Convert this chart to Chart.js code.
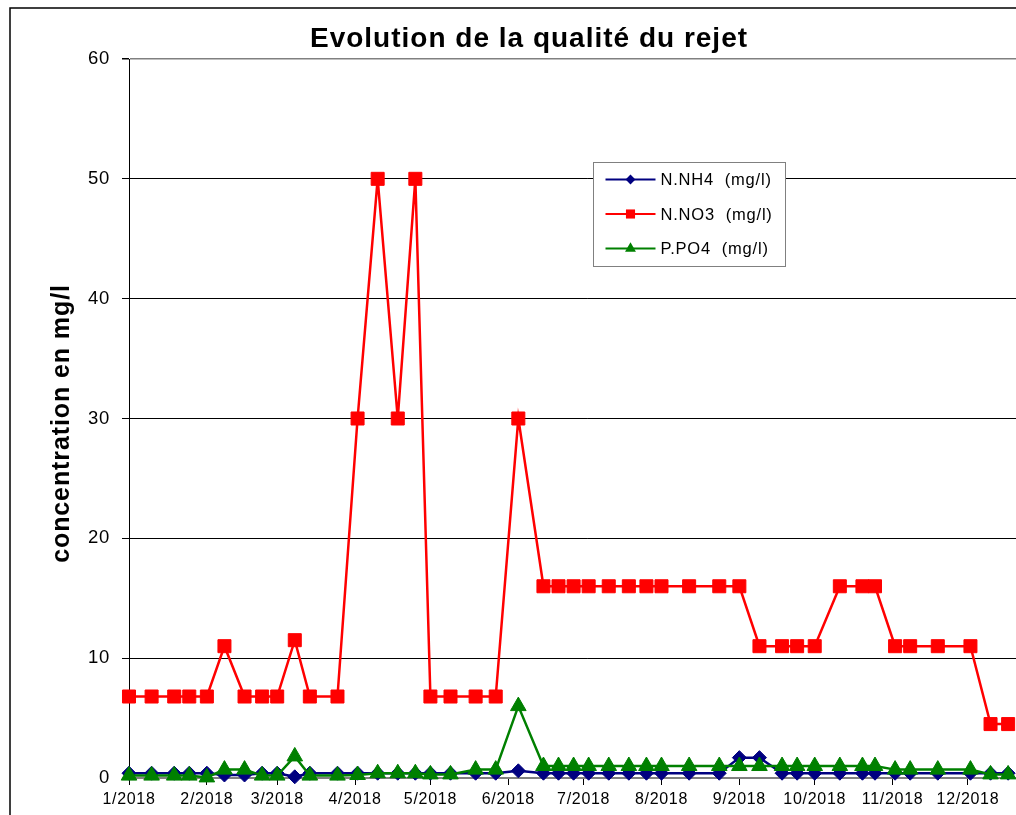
<!DOCTYPE html>
<html>
<head>
<meta charset="utf-8">
<title>Evolution de la qualité du rejet</title>
<script src="https://cdn.jsdelivr.net/npm/chart.js@4.4.1/dist/chart.umd.min.js"></script>
<style>
    html, body { margin: 0; padding: 0; background: #fff; overflow: hidden; }
    #wrap { width: 1016px; height: 815px; overflow: hidden; }
    canvas { display: block; }
</style>
</head>
<body>
<div id="wrap"><canvas id="rejetChart" width="1056" height="815"></canvas></div>
<script>
/* ========================================================
   DATA (day of year 2018 for each sample)
======================================================== */
const sampleDays = [0, 9, 18, 24, 31, 38, 46, 53, 59, 66, 72, 83, 91, 99, 107, 114,
    120, 128, 138, 146, 155, 165, 171, 177, 183, 191, 199, 206, 212, 223, 235, 243,
    251, 260, 266, 273, 283, 292, 297, 305, 311, 322, 335, 343, 350];

const nh4 = [0.4, 0.4, 0.4, 0.4, 0.4, 0.25, 0.25, 0.4, 0.4, 0.1, 0.4, 0.4, 0.4, 0.4, 0.4, 0.4,
    0.4, 0.4, 0.4, 0.4, 0.6, 0.4, 0.4, 0.4, 0.4, 0.4, 0.4, 0.4, 0.4, 0.4, 0.4, 1.7,
    1.7, 0.4, 0.4, 0.4, 0.4, 0.4, 0.4, 0.4, 0.4, 0.4, 0.4, 0.4, 0.4];

const no3 = [6.8, 6.8, 6.8, 6.8, 6.8, 11, 6.8, 6.8, 6.8, 11.5, 6.8, 6.8, 30, 50, 30, 50,
    6.8, 6.8, 6.8, 6.8, 30, 16, 16, 16, 16, 16, 16, 16, 16, 16, 16, 16,
    11, 11, 11, 11, 16, 16, 16, 11, 11, 11, 11, 4.5, 4.5];

const po4 = [0.2, 0.2, 0.2, 0.2, 0.05, 0.7, 0.7, 0.2, 0.2, 1.8, 0.2, 0.2, 0.25, 0.4, 0.4, 0.4,
    0.3, 0.3, 0.7, 0.7, 6.0, 1.0, 1.0, 1.0, 1.0, 1.0, 1.0, 1.0, 1.0, 1.0, 1.0, 1.0,
    1.0, 1.0, 1.0, 1.0, 1.0, 1.0, 1.0, 0.7, 0.7, 0.7, 0.7, 0.3, 0.3];

const monthStartDays = [0, 31, 59, 90, 120, 151, 181, 212, 243, 273, 304, 334];
const monthLabels = ['1/2018', '2/2018', '3/2018', '4/2018', '5/2018', '6/2018',
    '7/2018', '8/2018', '9/2018', '10/2018', '11/2018', '12/2018'];

const yMin = 0;
const yMax = 60;
const yStep = 10;

const seriesNames = ['N.NH4  (mg/l)', 'N.NO3  (mg/l)', 'P.PO4  (mg/l)'];
const chartTitle = 'Evolution de la qualité du rejet';
const yTitle = 'concentration en mg/l';

/* ========================================================
   HELPERS
======================================================== */
const FONT = "'Liberation Sans', Arial, sans-serif";

function toPoints(values) {
    return sampleDays.map((d, i) => ({ x: d, y: values[i] }));
}

function drawMarker(ctx, style, x, y, r, color) {
    ctx.fillStyle = color;
    ctx.beginPath();
    if (style === 'rectRot') {
        ctx.moveTo(x - r, y);
        ctx.lineTo(x, y - r);
        ctx.lineTo(x + r, y);
        ctx.lineTo(x, y + r);
    } else if (style === 'rect') {
        const s = Math.SQRT1_2 * r;
        ctx.rect(x - s, y - s, 2 * s, 2 * s);
    } else {
        ctx.moveTo(x, y - r);
        ctx.lineTo(x + r * 0.866, y + r * 0.5);
        ctx.lineTo(x - r * 0.866, y + r * 0.5);
    }
    ctx.closePath();
    ctx.fill();
}

/* ========================================================
   DECOR PLUGIN (frame, titles, legend)
======================================================== */
const decorPlugin = {
    id: 'decor',
    beforeDraw(chart) {
        const ctx = chart.ctx;
        ctx.save();
        ctx.fillStyle = '#fff';
        ctx.fillRect(0, 0, chart.width, chart.height);
        ctx.strokeStyle = '#000';
        ctx.lineWidth = 1.5;
        ctx.strokeRect(10, 8, chart.width + 100, chart.height + 100);
        ctx.restore();
        ctx.letterSpacing = '0.7px';
    },
    afterDraw(chart) {
        const ctx  = chart.ctx;
        const area = chart.chartArea;

        // main title
        ctx.save();
        ctx.letterSpacing = '1px';
        ctx.fillStyle = '#000';
        ctx.font = 'bold 28px ' + FONT;
        ctx.textAlign = 'center';
        ctx.textBaseline = 'alphabetic';
        ctx.fillText(chartTitle, 529, 47);
        ctx.restore();

        // y axis title
        ctx.save();
        ctx.letterSpacing = '0.9px';
        ctx.fillStyle = '#000';
        ctx.font = 'bold 25px ' + FONT;
        ctx.translate(62, (area.top + area.bottom) / 2 + 5);
        ctx.rotate(-Math.PI / 2);
        ctx.textAlign = 'center';
        ctx.textBaseline = 'middle';
        ctx.fillText(yTitle, 0, 0);
        ctx.restore();

        // legend box
        const bx = area.left + 464.5, by = area.top + 103.5, bw = 192, bh = 104;
        ctx.save();
        ctx.fillStyle = '#fff';
        ctx.fillRect(bx, by, bw, bh);
        ctx.strokeStyle = '#808080';
        ctx.lineWidth = 1;
        ctx.strokeRect(bx, by, bw, bh);

        ctx.letterSpacing = '0.8px';
        ctx.font = '16.5px ' + FONT;
        ctx.textBaseline = 'middle';
        ctx.textAlign = 'left';
        chart.data.datasets.forEach((ds, i) => {
            const y = by + 17 + i * 34.5;
            ctx.strokeStyle = ds.borderColor;
            ctx.lineWidth = 2;
            ctx.beginPath();
            ctx.moveTo(bx + 12, y);
            ctx.lineTo(bx + 62, y);
            ctx.stroke();
            drawMarker(ctx, ds.pointStyle, bx + 37, y, ds.pointRadius * 0.7, ds.borderColor);
            ctx.fillStyle = '#000';
            ctx.fillText(ds.label, bx + 67, y + 1);
        });
        ctx.restore();
    }
};

/* ========================================================
   CHART
======================================================== */
const ctx = document.getElementById('rejetChart').getContext('2d');
const rejetChart = new Chart(ctx, {
    type: 'line',
    data: {
        datasets: [{
            label: seriesNames[0],
            data: toPoints(nh4),
            borderColor: '#000080',
            backgroundColor: '#000080',
            borderWidth: 2.5,
            pointStyle: 'rectRot',
            pointRadius: 7,
            pointBorderWidth: 1,
            tension: 0,
            clip: false,
            order: 3
        }, {
            label: seriesNames[1],
            data: toPoints(no3),
            borderColor: '#ff0000',
            backgroundColor: '#ff0000',
            borderWidth: 2.5,
            pointStyle: 'rect',
            pointRadius: 9.2,
            pointBorderWidth: 1,
            tension: 0,
            clip: false,
            order: 2
        }, {
            label: seriesNames[2],
            data: toPoints(po4),
            borderColor: '#008000',
            backgroundColor: '#008000',
            borderWidth: 2.5,
            pointStyle: 'triangle',
            pointRadius: 9,
            pointBorderWidth: 1,
            tension: 0,
            clip: false,
            order: 1
        }]
    },
    options: {
        responsive: false,
        animation: false,
        events: [],
        layout: { padding: { top: 59, right: 9, left: 0, bottom: 0 } },
        scales: {
            x: {
                type: 'linear',
                min: 0,
                max: 365,
                afterBuildTicks(scale) {
                    scale.ticks = monthStartDays.map(v => ({ value: v }));
                },
                afterFit(scale) { scale.height = 37; },
                grid: {
                    drawOnChartArea: false,
                    drawTicks: true,
                    tickLength: 7,
                    color: '#000'
                },
                border: { display: true, color: '#808080', width: 2 },
                ticks: {
                    autoSkip: false,
                    maxRotation: 0,
                    padding: 5,
                    color: '#000',
                    font: { family: FONT, size: 16 },
                    callback: (value, index) => monthLabels[index]
                }
            },
            y: {
                min: yMin,
                max: yMax,
                afterFit(scale) { scale.width = 129; },
                grid: {
                    color: c => (c.tick.value === yMax || c.tick.value === yMin) ? '#808080' : '#000',
                    lineWidth: c => (c.tick.value === yMax) ? 1.5 : 1,
                    tickColor: '#000',
                    tickLength: 7
                },
                border: { display: true, color: '#000', width: 1 },
                ticks: {
                    stepSize: yStep,
                    padding: 12,
                    color: '#000',
                    font: { family: FONT, size: 18.5 }
                }
            }
        },
        plugins: {
            legend: { display: false },
            title: { display: false },
            tooltip: { enabled: false }
        }
    },
    plugins: [decorPlugin]
});
</script>
</body>
</html>
